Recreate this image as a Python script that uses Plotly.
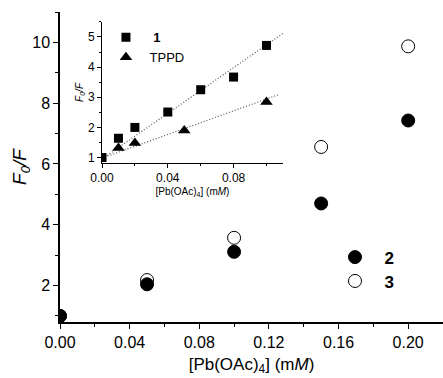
import plotly.graph_objects as go

# Main plot data
conc_main = [0.0, 0.05, 0.10, 0.15, 0.20]
ratio_2 = [1.0, 2.04, 3.11, 4.70, 7.43]
ratio_3 = [1.0, 2.18, 3.57, 6.56, 9.87]

# Inset data
conc_1 = [0.0, 0.01, 0.02, 0.04, 0.06, 0.08, 0.10]
ratio_1 = [1.0, 1.64, 2.0, 2.51, 3.25, 3.67, 4.72]
conc_tppd = [0.01, 0.02, 0.05, 0.10]
ratio_tppd = [1.32, 1.48, 1.90, 2.84]

# Fit lines (read endpoints)
fit1_x = [0.0, 0.11]
fit1_y = [0.95, 5.12]
fitT_x = [0.0, 0.107]
fitT_y = [0.98, 3.08]

FONT = "Liberation Sans, Arial, sans-serif"

fig = go.Figure()

fig.add_trace(go.Scatter(x=fit1_x, y=fit1_y, mode="lines", xaxis="x2", yaxis="y2",
                         line=dict(color="#555", width=1.2, dash="1px,2px"), showlegend=False))
fig.add_trace(go.Scatter(x=fitT_x, y=fitT_y, mode="lines", xaxis="x2", yaxis="y2",
                         line=dict(color="#555", width=1.2, dash="1px,2px"), showlegend=False))
fig.add_trace(go.Scatter(x=conc_1, y=ratio_1, mode="markers", xaxis="x2", yaxis="y2",
                         name="&nbsp;&nbsp;<b>1</b>", legend="legend2",
                         marker=dict(symbol="square", size=9, color="black")))
fig.add_trace(go.Scatter(x=conc_tppd, y=ratio_tppd, mode="markers", xaxis="x2", yaxis="y2",
                         name="&nbsp;TPPD", legend="legend4",
                         marker=dict(symbol="triangle-up", size=11, color="black")))

fig.add_trace(go.Scatter(x=conc_main, y=ratio_3, mode="markers", name="&nbsp;&nbsp;<b>3</b>",
                         legend="legend3",
                         marker=dict(symbol="circle", size=13, color="white",
                                     line=dict(color="black", width=1))))
fig.add_trace(go.Scatter(x=conc_main, y=ratio_2, mode="markers", name="&nbsp;&nbsp;<b>2</b>",
                         legend="legend",
                         marker=dict(symbol="circle", size=13, color="black",
                                     line=dict(color="black", width=1))))

axis_common = dict(showgrid=False, zeroline=False, showline=True, linecolor="black",
                   ticks="outside", tickcolor="black", color="black")

leg_main = dict(xanchor="left", yanchor="top", bgcolor="rgba(0,0,0,0)",
                font=dict(size=17), itemsizing="trace")
leg_ins = dict(xanchor="left", yanchor="top", bgcolor="rgba(0,0,0,0)",
               font=dict(size=13), itemsizing="trace")

fig.update_layout(
    width=443, height=378,
    margin=dict(l=60, r=0, t=12, b=56),
    plot_bgcolor="white", paper_bgcolor="white",
    font=dict(family=FONT, color="black"),
    xaxis=dict(**axis_common, range=[0, 0.22], dtick=0.04, tick0=0, tickformat=".2f",
               linewidth=1.5, ticklen=5, tickwidth=1.2,
               minor=dict(dtick=0.02, ticks="outside", ticklen=3, tickcolor="black"),
               tickfont=dict(size=16),
               title=dict(text="[Pb(OAc)<sub>4</sub>] (m<i>M</i>)", font=dict(size=17), standoff=8)),
    yaxis=dict(**axis_common, range=[0.8, 11.0], dtick=2, tick0=0,
               linewidth=1.5, ticklen=5, tickwidth=1.2,
               minor=dict(dtick=1, ticks="outside", ticklen=3, tickcolor="black"),
               tickfont=dict(size=16),
               title=dict(text="<i>F<sub>0</sub>/F</i>", font=dict(size=19), standoff=1)),
    xaxis2=dict(**axis_common, domain=[0.1097, 0.582], anchor="y2", range=[0, 0.11],
                dtick=0.04, tick0=0, tickformat=".2f", linewidth=1, ticklen=4,
                minor=dict(dtick=0.02, ticks="outside", ticklen=2, tickcolor="black"),
                tickfont=dict(size=12),
                title=dict(text="[Pb(OAc)<sub>4</sub>] (m<i>M</i>)", font=dict(size=10), standoff=3)),
    yaxis2=dict(**axis_common, domain=[0.513, 0.968], anchor="x2", range=[0.82, 5.5],
                dtick=1, tick0=0, linewidth=1, ticklen=4,
                minor=dict(dtick=0.5, ticks="outside", ticklen=2, tickcolor="black"),
                tickfont=dict(size=12),
                title=dict(text="<i>F<sub>0</sub>/F</i>", font=dict(size=10), standoff=2)),
    legend=dict(**leg_main, x=0.718, y=0.266),
    legend3=dict(**leg_main, x=0.718, y=0.189),
    legend2=dict(**leg_ins, x=0.12, y=0.9665),
    legend4=dict(**leg_ins, x=0.12, y=0.902),
)

fig.write_html("out.html")
